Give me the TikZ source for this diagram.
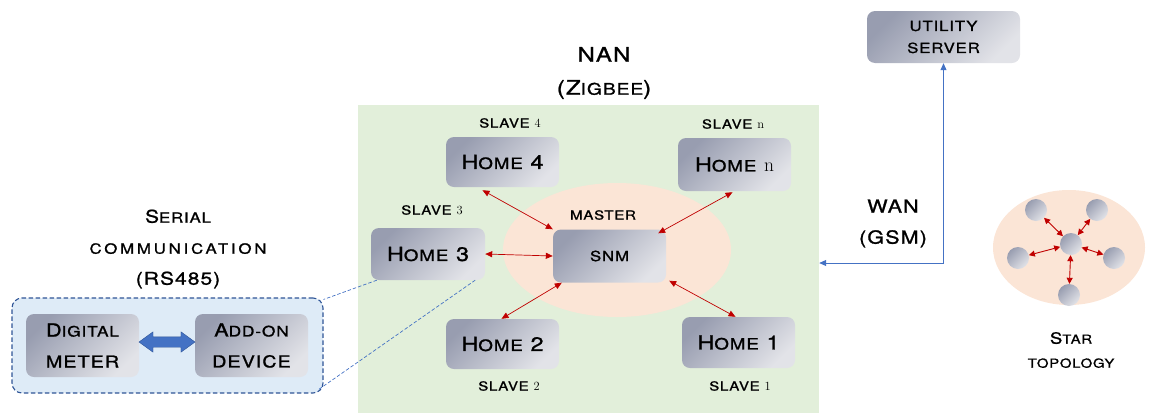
\documentclass[tikz,border=0pt]{standalone}
\usepackage{fontspec}
\usetikzlibrary{arrows.meta,shapes.geometric,shapes.arrows,calc}
\newfontfamily\cpfont[FakeStretch=1.2,LetterSpace=6,FakeBold=1.2]{TeX Gyre Heros}
\newfontfamily\cpwide[FakeStretch=1.2,LetterSpace=20,FakeBold=1.2]{TeX Gyre Heros}
\newcommand\dg[1]{{\rmfamily\mdseries\upshape #1}}
\newcommand\fsz[2]{\fontsize{#1}{#2}\selectfont}
\makeatletter
% smaller capitals for the lower-case part of a word
\newcommand\sm[1]{{\@tempdima=\f@size pt\relax\@tempdima=0.8\@tempdima
  \fontsize{\strip@pt\@tempdima}{\f@baselineskip}\selectfont #1}}
\makeatother
\definecolor{nangreen}{HTML}{E2EFDA}
\definecolor{salmon}{HTML}{FBE5D6}
\definecolor{serialfill}{HTML}{DEEBF7}
\definecolor{serialedge}{HTML}{2F5597}
\definecolor{linkblue}{HTML}{4472C4}
\definecolor{linkred}{HTML}{C00000}
\definecolor{boxdark}{HTML}{989DB0}
\definecolor{boxmid}{HTML}{C6C8D3}
\definecolor{boxlight}{HTML}{E2E3E8}
\begin{document}
\begin{tikzpicture}[x=1pt,y=-1pt,
  txt/.style={text=black, inner sep=0pt, align=center},
  unit/.style={draw=none, rounded corners=8pt, top color=boxdark, middle color=boxmid,
    bottom color=boxlight, shading angle=45, inner sep=0pt, align=center,
    font=\cpfont\fsz{19.5}{22}},
  dot/.style={circle, draw=none, minimum size=22pt, inner sep=0pt, top color=boxdark,
    middle color=boxmid, bottom color=boxlight, shading angle=45},
  zone/.style={ellipse, draw=none, fill=salmon, inner sep=0pt},
  redlink/.style={draw=linkred, line width=0.7pt,
    {Triangle[length=7pt,width=6pt]}-{Triangle[length=7pt,width=6pt]}},
  starlink/.style={draw=linkred, line width=0.9pt,
    {Triangle[length=6pt,width=6pt]}-{Triangle[length=6pt,width=6pt]}},
  tether/.style={draw=linkblue, line width=0.7pt, dash pattern=on 3.5pt off 2pt},
  wanlink/.style={draw=linkblue, line width=0.8pt,
    {Triangle[length=7pt,width=6pt]}-{Triangle[length=7pt,width=6pt]}},
]
\useasboundingbox (0,0) rectangle (1155,413);

% neighbourhood area network
\node[fill=nangreen, draw=none, minimum width=461pt, minimum height=308pt, inner sep=0pt]
  (nan) at (588.5,259) {};
\node[txt, font=\cpfont\fsz{20}{33}] (nantitle) at (604,73) {NAN\\(Z\sm{IGBEE})};
\node[zone, minimum width=228pt, minimum height=134pt] (master zone) at (617,250) {};

\node[unit, minimum width=113pt, minimum height=50pt] (home4) at (502.5,162) {H\sm{OME} 4};
\node[unit, minimum width=113pt, minimum height=53pt] (homen) at (734.5,164.5) {H\sm{OME} \dg{n}};
\node[unit, minimum width=113pt, minimum height=53pt, font=\cpfont\fsz{14}{20}]
  (snm) at (609.5,256) {SNM};
\node[unit, minimum width=114pt, minimum height=52pt] (home3) at (428,254) {H\sm{OME} 3};
\node[unit, minimum width=113pt, minimum height=50pt] (home2) at (502.5,344) {H\sm{OME} 2};
\node[unit, minimum width=113pt, minimum height=51pt] (home1) at (738.5,342.5) {H\sm{OME} 1};

\begin{scope}[every node/.append style={txt, font=\cpfont\fsz{12.5}{16}}]
\node (slave4) at (510,123) {SLAVE \dg{4}};
\node (slaven) at (733,124) {SLAVE \dg{n}};
\node (slave3) at (432,210) {SLAVE \dg{3}};
\node (slave2) at (509,386) {SLAVE \dg{2}};
\node (slave1) at (740,386) {SLAVE \dg{1}};
\node (masterlbl) at (603,215) {MASTER};
\end{scope}

\draw[redlink] ($(home4.south)+(-20,3)$) -- (snm.north west);
\draw[redlink] ($(homen.south)+(-2,1)$) -- ($(snm.north east)+(-8,4)$);
\draw[redlink] (home3.east) -- (snm.west);
\draw[redlink] ($(snm.south west)+(9,0)$) -- ($(home2.north)+(-1,0)$);
\draw[redlink] ($(snm.south east)+(3,-2)$) -- ($(home1.north)+(-3,0)$);

% serial link to the meter
\node[txt, font=\cpfont\fsz{17.5}{31}] (serialtitle) at (178,249)
  {S\sm{ERIAL}\\{\cpwide\sm{COMMUNICATION}}\\(RS485)};
\node[fill=serialfill, draw=serialedge, line width=1.1pt, dash pattern=on 4.5pt off 2.5pt,
  rounded corners=10pt, minimum width=311pt, minimum height=95pt, inner sep=0pt]
  (serial) at (167.5,345.5) {};
\node[unit, minimum width=113pt, minimum height=63pt, font=\cpfont\fsz{18}{31}]
  (digital) at (82.5,345.5) {D\sm{IGITAL}\\{\fsz{16.5}{31}METER}};
\node[unit, minimum width=113pt, minimum height=63pt, font=\cpfont\fsz{18}{31}]
  (addon) at (251.5,345.5) {A\sm{DD-ON}\\{\fsz{16.5}{31}DEVICE}};
\node[double arrow, fill=linkblue, draw=serialedge, line width=0.4pt, inner xsep=0pt,
  inner ysep=5pt, minimum height=56pt, minimum width=0pt, double arrow head extend=5pt,
  double arrow tip angle=72] (rs485) at ($(digital.east)!0.5!(addon.west)+(0,-3.5)$) {};
\draw[tether] ($(home3.south west)+(6,0)$) -- ($(serial.north east)+(0,2)$);
\draw[tether] ($(home3.south east)+(-10,0)$) -- ($(serial.south east)+(-5,-4)$);

% wide area link
\node[unit, minimum width=153pt, minimum height=52pt, font=\cpfont\fsz{14}{22}]
  (utility) at (943.5,37) {UTILITY\\SERVER};
\coordinate (bend) at (utility.south |- 0,263);
\draw[wanlink] (nan.east |- bend) -- (bend) -- (utility.south);
\node[txt, font=\cpfont\fsz{18}{31}] (wan) at (893,223.5) {WAN\\(GSM)};

% star topology sketch
\node[zone, minimum width=152pt, minimum height=115pt] (star zone) at (1069,247.5) {};
\node[dot] (hub) at (1071,244) {};
\node[dot] (s1) at (1036,210) {};
\node[dot] (s2) at (1097,210) {};
\node[dot] (s3) at (1018,258) {};
\node[dot] (s4) at (1114,258) {};
\node[dot] (s5) at (1069,295) {};
\foreach \s in {s1,s2,s3,s4,s5} \draw[starlink] (hub) -- (\s);
\node[txt, font=\cpfont\fsz{15.5}{24}] (startitle) at (1071,350) {S\sm{TAR}\\\sm{TOPOLOGY}};
\end{tikzpicture}
\end{document}
